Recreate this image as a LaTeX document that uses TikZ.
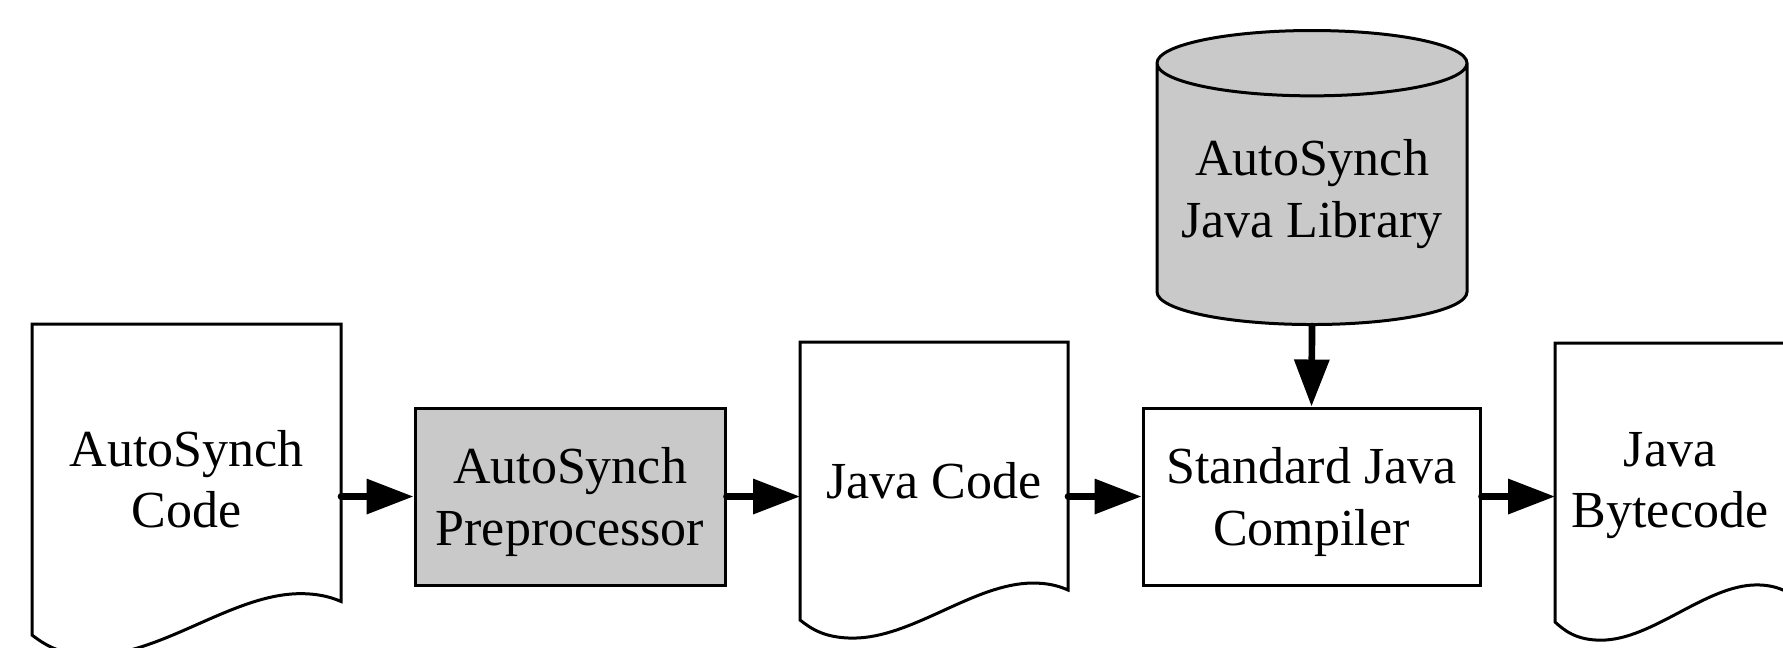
\documentclass[tikz,border=0pt]{standalone}
\usepackage{fontspec}
\setmainfont{Liberation Serif}
\usepackage{tikz}
\usetikzlibrary{arrows.meta}
\usetikzlibrary{shapes.geometric}

\definecolor{boxgray}{RGB}{201,201,201}

\tikzset{
  docline/.style={draw=black, line width=0.75pt, fill=white},
  doctext/.style={align=center, inner sep=0pt, font=\fontsize{13}{15.4}\selectfont},
  procbox/.style={draw=black, line width=0.75pt, align=center, inner sep=0pt,
    text depth=0pt, font=\fontsize{13}{15.5}\selectfont},
  libdb/.style={cylinder, shape border rotate=90, aspect=0.25, draw=black,
    line width=0.75pt, fill=boxgray, align=center, inner sep=0pt,
    minimum width=77.5pt, minimum height=73.5pt, text depth=3pt,
    font=\fontsize{13}{15.5}\selectfont},
  flowarrow/.style={line width=1.67pt, line cap=round,
    -{Triangle[length=11.75pt, width=8.5pt]}}
}

% page with a wavy lower edge: left, top, width, height
\newcommand{\docpage}[4]{%
  \draw[docline] (#1,#2) -- ({#1+#3},#2) -- ({#1+#3},{#2+0.892*#4})
    .. controls ({#1+0.96*#3},{#2+0.875*#4}) and ({#1+0.92*#3},{#2+0.867*#4}) .. ({#1+0.869*#3},{#2+0.867*#4})
    .. controls ({#1+0.65*#3},{#2+0.867*#4}) and ({#1+0.42*#3},{#2+1.065*#4}) .. ({#1+0.198*#3},{#2+1.065*#4})
    .. controls ({#1+0.09*#3},{#2+1.065*#4}) and ({#1+0.04*#3},{#2+1.03*#4}) .. (#1,{#2+#4}) -- cycle;
}

\begin{document}
\begin{tikzpicture}[x=0.25pt, y=-0.25pt]

  \clip (0,0) rectangle (1783,647);

  % input and output pages
  \docpage{32}{324}{309}{311}
  \node[doctext] (srccode) at (186.5,479) {AutoSynch\\Code};
  \coordinate (srcout) at (341,496.5);

  \docpage{800}{342}{268}{278}
  \node[doctext, anchor=base] (javacode) at (934,498) {Java Code};
  \coordinate (javain) at (800,496.5);
  \coordinate (javaout) at (1068,496.5);

  \docpage{1555}{343}{232}{279}
  \node[doctext] (bytecode) at (1670,485.5) {Java\\Bytecode};
  \coordinate (bytein) at (1555,496.5);

  % processing steps
  \node[procbox, fill=boxgray, minimum width=77.5pt, minimum height=44.25pt]
    (prep) at (570,496.5) {AutoSynch\\Preprocessor};
  \node[procbox, fill=white, minimum width=84.25pt, minimum height=44.25pt]
    (comp) at (1311.5,496.5) {Standard Java\\Compiler};

  \node[libdb, anchor=shape center] (lib) at (1312,177.5) {AutoSynch\\Java Library};

  \draw[flowarrow] (srcout) -- (prep.west);
  \draw[flowarrow] (prep.east) -- (javain);
  \draw[flowarrow] (javaout) -- (comp.west);
  \draw[flowarrow] (comp.east) -- (bytein);
  \draw[flowarrow] (lib.south) -- (comp.north);

\end{tikzpicture}
\end{document}
